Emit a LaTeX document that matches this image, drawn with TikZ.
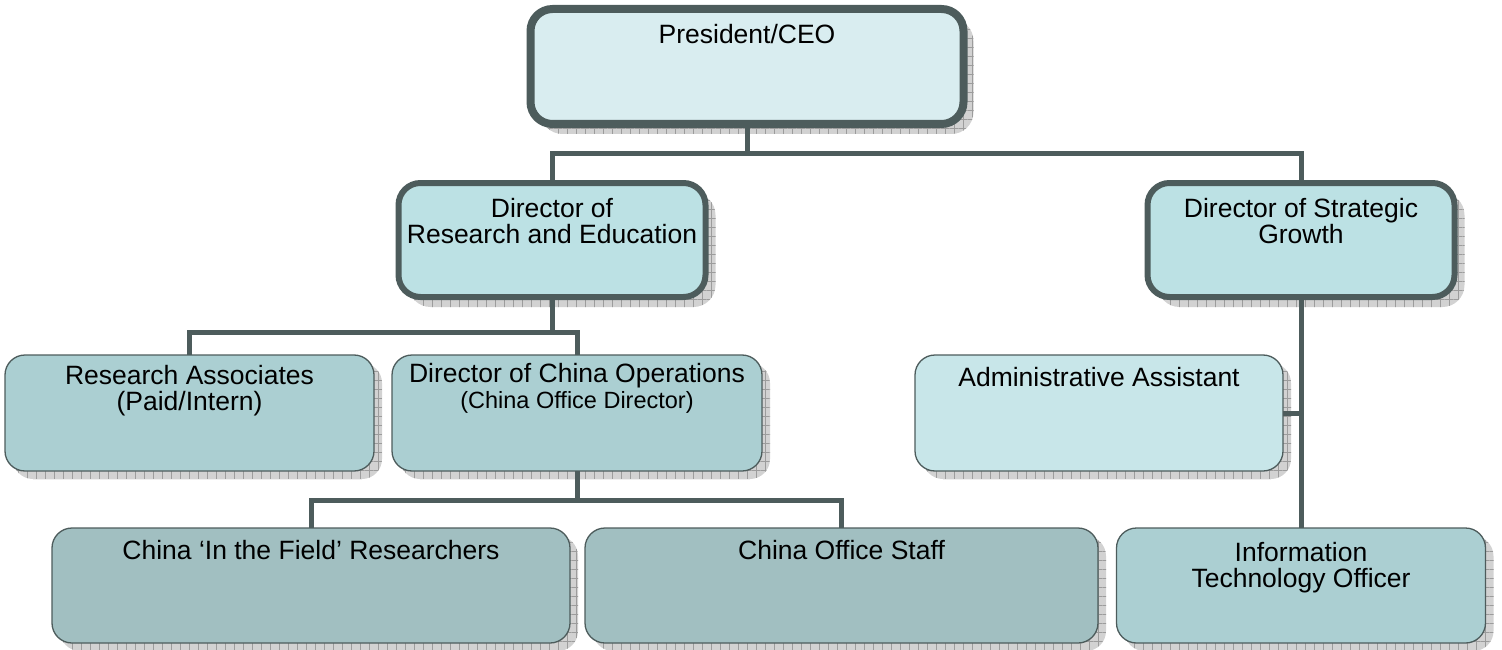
\documentclass[tikz,border=0pt]{standalone}
\usepackage{fontspec}
\setmainfont{Liberation Sans}
\usepackage{xcolor}
\usepackage{tikz}
\usetikzlibrary{positioning,shadows,patterns.meta}

\definecolor{linegray}{HTML}{4D5C5C}
\definecolor{ceofill}{HTML}{D9EDF0}
\definecolor{dirfill}{HTML}{BCE1E4}
\definecolor{midfill}{HTML}{ABCFD2}
\definecolor{admfill}{HTML}{C8E6E9}
\definecolor{lowfill}{HTML}{A1BFC1}
\definecolor{shadowgray}{HTML}{D2D2D2}
\definecolor{hatchgray}{HTML}{9C9C9C}

\begin{document}
\begin{tikzpicture}[x=1pt,y=-1pt,
        boxshadow/.style={general shadow={shadow xshift=#1,shadow yshift=-#1,fill=shadowgray},
            general shadow={shadow xshift=#1,shadow yshift=-#1,pattern={Hatch[angle=0,distance=9pt,line width=.6pt]},pattern color=hatchgray}},
        box/.style={rectangle,rounded corners=20pt,draw=linegray,line width=1.3pt,outer sep=0pt,boxshadow=8pt},
        bigbox/.style={rectangle,rounded corners=22pt,draw=linegray,line width=6pt,outer sep=0pt,boxshadow=10pt},
        lbl/.style={inner sep=0pt,align=center,font=\fontsize{26.5}{26}\selectfont},
        conn/.style={draw=linegray,line width=5pt}]
        \useasboundingbox (0,0) rectangle (1502,650);
        \node [bigbox, fill=ceofill, minimum width=433pt, minimum height=115pt, line width=8pt] (ceo) at (747,66.5) {};
        \node [bigbox, fill=dirfill, minimum width=307pt, minimum height=114pt] (dre) at (552,240) {};
        \node [bigbox, fill=dirfill, minimum width=307pt, minimum height=114pt] (dsg) at (1301,240) {};
        \node [box, fill=midfill, minimum width=369pt, minimum height=116pt] (ra) at (189.5,413) {};
        \node [box, fill=midfill, minimum width=370pt, minimum height=116pt] (dco) at (577,413) {};
        \node [box, fill=admfill, minimum width=368pt, minimum height=116pt] (aa) at (1099,413) {};
        \node [box, fill=lowfill, minimum width=518pt, minimum height=115pt] (cfr) at (311,585.5) {};
        \node [box, fill=lowfill, minimum width=513pt, minimum height=115pt] (cos) at (841.5,585.5) {};
        \node [box, fill=midfill, minimum width=369pt, minimum height=115pt] (ito) at (1301,585.5) {};
        \draw [conn] (ceo.south) -- ++(0,30) coordinate (ceobus) -| (dre.north);
        \draw [conn] (ceobus) -| (dsg.north);
        \draw [conn] (dre.south) -- ++(0,35) coordinate (rebus) -| (ra.north);
        \draw [conn] (rebus) -| (dco.north);
        \draw [conn] (dco.south) -- ++(0,29) coordinate (chinabus) -| (cfr.north);
        \draw [conn] (chinabus) -| (cos.north);
        \draw [conn] (dsg.south) -- (ito.north);
        \draw [conn] (aa.east) -- (aa.east -| dsg.south);
        \node [lbl, below=15pt] (ceotxt) at (ceo.north) {President/CEO};
        \node [lbl, below=15pt] (dretxt) at (dre.north) {Director of\\Research and Education};
        \node [lbl, below=15pt] (dsgtxt) at (dsg.north) {Director of Strategic\\Growth};
        \node [lbl, below=10pt] (ratxt) at (ra.north) {Research Associates\\(Paid/Intern)};
        \node [lbl, below=8pt] (dcotxt) at (dco.north) {Director of China Operations\\{\fontsize{23.5}{26}\selectfont (China Office Director)}};
        \node [lbl, below=12pt] (aatxt) at (aa.north) {Administrative Assistant};
        \node [lbl, below=12pt] (cfrtxt) at (cfr.north) {China ‘In the Field’ Researchers};
        \node [lbl, below=12pt] (costxt) at (cos.north) {China Office Staff};
        \node [lbl, below=14pt] (itotxt) at (ito.north) {Information\\Technology Officer};
\end{tikzpicture}
\end{document}
